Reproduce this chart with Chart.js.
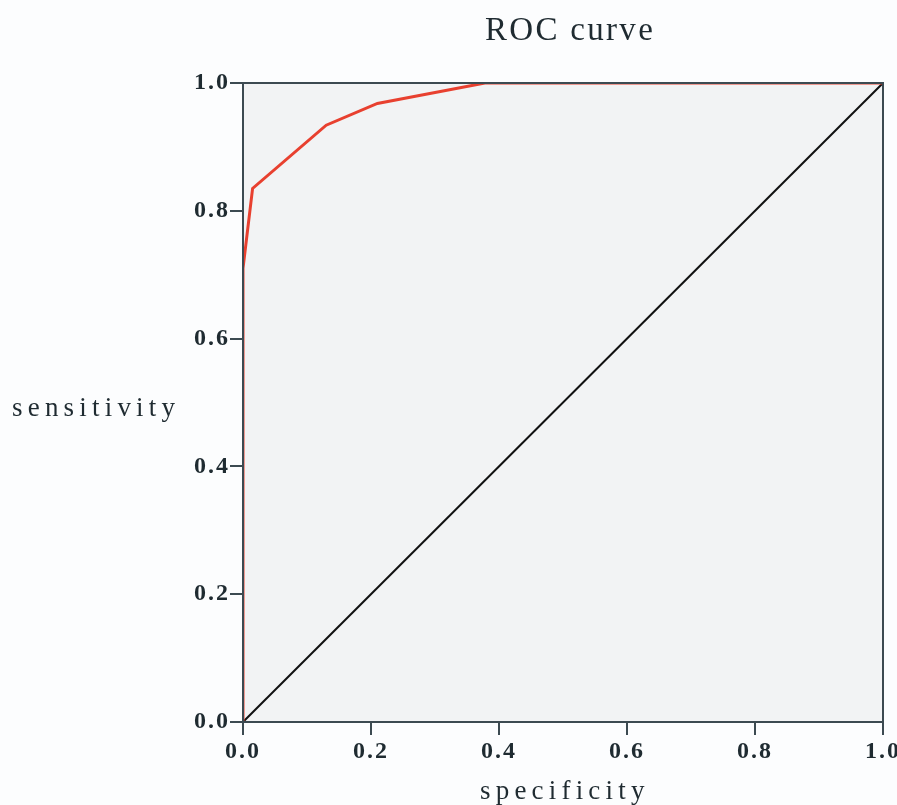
<!DOCTYPE html>
<html lang="en">
<head>
<meta charset="UTF-8">
<title>ROC curve</title>
<script src="https://cdn.jsdelivr.net/npm/chart.js"></script>
<style>
  html, body { margin: 0; padding: 0; background: #fcfdfe; }
  canvas { display: block; }
</style>
</head>
<body>
<canvas id="roc" width="897" height="805"></canvas>
<script>
// ROC curve points (1 - specificity on x, sensitivity on y)
const rocX = [0.0, 0.0, 0.015, 0.13, 0.21, 0.378, 1.0];
const rocY = [0.0, 0.71, 0.835, 0.934, 0.968, 1.0, 1.0];
// reference diagonal
const diagX = [0.0, 1.0];
const diagY = [0.0, 1.0];
const tickValues = [0.0, 0.2, 0.4, 0.6, 0.8, 1.0];

const FONT = '"Liberation Serif", "DejaVu Serif", serif';
const TEXT = '#1f2b31';
const AXIS = '#3c4a51';

const toPoints = (xs, ys) => xs.map((x, i) => ({ x: x, y: ys[i] }));

// plot background, frame and the horizontal titles
const framePlugin = {
  id: 'frame',
  beforeDraw(chart) {
    const a = chart.chartArea, ctx = chart.ctx;
    ctx.fillStyle = '#f2f3f4';
    ctx.fillRect(a.left, a.top, a.right - a.left, a.bottom - a.top);
    // wide spacing for the tick labels, like the original's fixed-width font
    ctx.letterSpacing = '2px';
  },
  afterDraw(chart) {
    const a = chart.chartArea, ctx = chart.ctx;
    ctx.save();
    ctx.strokeStyle = AXIS;
    ctx.lineWidth = 2;
    ctx.strokeRect(a.left, a.top, a.right - a.left, a.bottom - a.top);
    ctx.fillStyle = TEXT;
    ctx.textBaseline = 'alphabetic';
    ctx.textAlign = 'left';
    ctx.font = '33px ' + FONT;
    ctx.letterSpacing = '2.3px';
    ctx.fillText('ROC curve', 485, 40);
    ctx.font = '27px ' + FONT;
    ctx.letterSpacing = '5.2px';
    ctx.fillText('sensitivity', 12, 416);
    ctx.fillText('specificity', 480, 799);
    ctx.restore();
    ctx.letterSpacing = '0px';
  }
};

new Chart(document.getElementById('roc'), {
  type: 'scatter',
  data: {
    datasets: [
      {
        data: toPoints(rocX, rocY),
        showLine: true,
        borderColor: '#e8402f',
        borderWidth: 3,
        pointRadius: 0,
        tension: 0
      },
      {
        data: toPoints(diagX, diagY),
        showLine: true,
        borderColor: '#111111',
        borderWidth: 2,
        pointRadius: 0
      }
    ]
  },
  options: {
    responsive: false,
    animation: false,
    layout: { padding: { top: 83, right: 14, left: 0, bottom: 0 } },
    plugins: {
      legend: { display: false },
      tooltip: { enabled: false }
    },
    scales: {
      x: {
        type: 'linear',
        min: 0, max: 1,
        afterBuildTicks(scale) { scale.ticks = tickValues.map(v => ({ value: v })); },
        afterFit(scale) { scale.height = 83; scale.paddingRight = 0; scale.paddingLeft = 0; },
        grid: { drawOnChartArea: false, drawTicks: true, tickLength: 13, color: AXIS, lineWidth: 2 },
        border: { color: AXIS, width: 2 },
        ticks: {
          padding: 2,
          color: TEXT,
          font: { family: FONT, size: 24, weight: 'bold' },
          maxRotation: 0,
          callback: v => v.toFixed(1)
        }
      },
      y: {
        type: 'linear',
        min: 0, max: 1,
        afterBuildTicks(scale) { scale.ticks = tickValues.map(v => ({ value: v })); },
        afterFit(scale) { scale.width = 243; scale.paddingTop = 0; scale.paddingBottom = 0; },
        grid: { drawOnChartArea: false, drawTicks: true, tickLength: 13, color: AXIS, lineWidth: 2 },
        border: { color: AXIS, width: 2 },
        ticks: {
          padding: 0,
          color: TEXT,
          font: { family: FONT, size: 24, weight: 'bold' },
          callback: v => v.toFixed(1)
        }
      }
    }
  },
  plugins: [framePlugin]
});
</script>
</body>
</html>
